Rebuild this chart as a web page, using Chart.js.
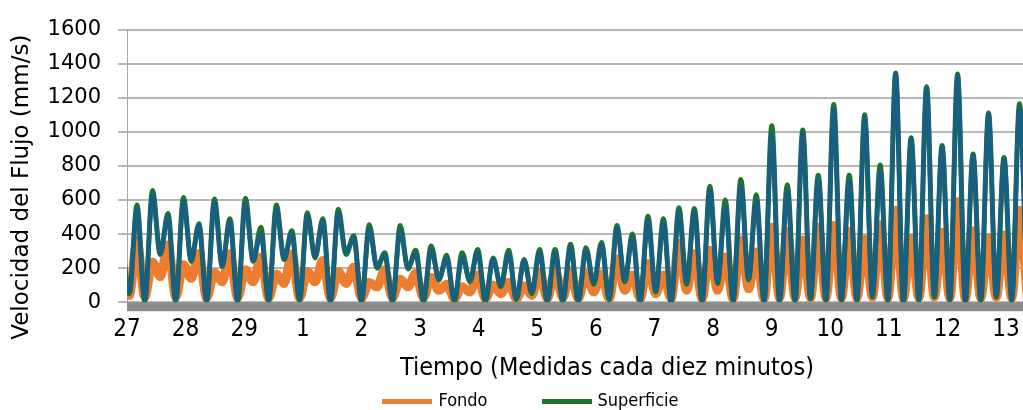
<!DOCTYPE html>
<html>
<head>
<meta charset="utf-8">
<title>Velocidad del Flujo</title>
<script src="https://cdn.jsdelivr.net/npm/chart.js@4/dist/chart.umd.min.js"></script>
<style>
  body { margin: 0; background: #fff; }
  #marco { position: relative; width: 1023px; height: 410px; }
  #leyenda { position: absolute; left: 0; width: 985px; padding-left: 38px; top: 389px; text-align: center;
             font: 18px 'Liberation Sans Narrow', 'DejaVu Sans Condensed', 'DejaVu Sans', sans-serif; color: #000; }
  .item { display: inline-block; margin: 0 27px; white-space: nowrap; }
  .linea { display: inline-block; width: 50px; height: 5px; vertical-align: middle; margin-right: 6px; }
</style>
</head>
<body>
<div id="marco">
  <canvas id="grafico"></canvas>
  <div id="leyenda"></div>
</div>
<script>
// eje x: dias (27 del primer mes al 13 del siguiente)
const etiquetasDias = ['27','28','29','1','2','3','4','5','6','7','8','9','10','11','12','13'];
const diasVisibles = 15.29;
const tituloX = 'Tiempo (Medidas cada diez minutos)';
const tituloY = 'Velocidad del Flujo (mm/s)';

// maximos y minimos sucesivos (pico, valle, pico, valle...), mm/s
// muestreados cada medio ciclo de marea
const primerPico = 0.171;   // dia del primer pico visible
const medioCiclo = 0.1321;  // dias entre pico y valle

const fondo = [
  220, 40,
  360, 30, 235, 150, 335, 30, 220, 140, 285, 25, 175, 120, 285, 25, 190, 120,
  265, 25, 165, 110, 285, 25, 180, 120, 245, 25, 180, 110, 205, 25, 115, 90,
  190, 25, 135, 90, 170, 25, 145, 70, 105, 20, 90, 60, 160, 20, 100, 50,
  115, 20, 95, 40, 175, 20, 185, 25, 185, 20, 170, 60, 165, 20, 255, 70,
  160, 20, 225, 50, 160, 20, 345, 70, 285, 20, 305, 70, 265, 20, 365, 80,
  295, 20, 440, 25, 415, 25, 365, 25, 440, 25, 450, 25, 415, 25, 370, 30,
  455, 25, 540, 20, 375, 25, 490, 30, 410, 25, 590, 20, 420, 25, 380, 30,
  395, 25, 540, 25
];

const superficie = [
  390, 50,
  570, 5, 655, 280, 520, 5, 615, 240, 460, 5, 605, 210, 490, 5, 610, 240,
  440, 5, 570, 250, 420, 10, 525, 260, 490, 5, 545, 280, 390, 5, 455, 200,
  290, 5, 450, 195, 305, 5, 330, 130, 275, 5, 290, 120, 310, 5, 260, 90,
  305, 15, 250, 50, 310, 5, 310, 5, 340, 5, 320, 105, 350, 15, 450, 120,
  400, 5, 505, 60, 490, 0, 555, 105, 550, 5, 680, 110, 600, 5, 720, 130,
  630, 5, 1035, 5, 690, 5, 1010, 20, 745, 10, 1160, 10, 745, 10, 1100, 30,
  805, 10, 1345, 0, 965, 10, 1265, 30, 920, 10, 1340, 5, 870, 10, 1110, 30,
  850, 10, 1165, 10
];

const superficieB = [
  380, 60,
  545, 15, 630, 290, 500, 15, 590, 250, 450, 10, 585, 220, 475, 10, 575, 250,
  400, 15, 545, 260, 400, 20, 505, 270, 475, 10, 520, 290, 375, 15, 430, 210,
  275, 15, 420, 205, 285, 15, 305, 140, 255, 10, 260, 130, 290, 15, 250, 100,
  285, 25, 235, 60, 290, 10, 290, 15, 320, 10, 300, 115, 335, 25, 435, 130,
  375, 10, 475, 70, 465, 5, 530, 115, 530, 10, 655, 120, 555, 15, 685, 140,
  595, 10, 985, 15, 655, 15, 990, 30, 725, 20, 1130, 20, 715, 20, 1085, 40,
  770, 20, 1335, 5, 955, 20, 1255, 40, 910, 20, 1325, 10, 860, 20, 1100, 40,
  840, 20, 1140, 20
];

function puntos(valores) {
  return valores.map((v, k) => ({ x: primerPico + (k - 2) * medioCiclo, y: v }));
}

const fuente = "'DejaVu Sans', sans-serif";
const fuenteEstrecha = "'Liberation Sans Narrow', 'DejaVu Sans Condensed', 'DejaVu Sans', sans-serif";

// banda gris bajo el cero y titulos de los ejes
const bandaEje = {
  id: 'bandaEje',
  afterDatasetsDraw(chart) {
    const { ctx, chartArea, scales } = chart;
    const y0 = scales.y.getPixelForValue(0);
    ctx.save();
    ctx.fillStyle = '#8c8c8c';
    ctx.fillRect(chartArea.left, y0, chartArea.right - chartArea.left, 9);
    ctx.restore();
  }
};

const titulosEjes = {
  id: 'titulosEjes',
  afterDraw(chart) {
    const { ctx, chartArea } = chart;
    ctx.save();
    ctx.fillStyle = '#000';
    ctx.textAlign = 'center';
    ctx.textBaseline = 'middle';
    ctx.font = '25px ' + fuenteEstrecha;
    ctx.fillText(tituloX, chartArea.left + 480, chartArea.bottom + 66);
    ctx.translate(22, chartArea.bottom - 115);
    ctx.rotate(-Math.PI / 2);
    ctx.font = '23px ' + fuente;
    ctx.fillText(tituloY, 0, 0);
    ctx.restore();
  }
};

const config = {
  type: 'line',
  data: {
    datasets: [
      { label: 'Fondo', data: puntos(fondo), borderColor: '#ed7d31', borderWidth: 9, order: 3, enLeyenda: true },
      { label: 'Superficie', data: puntos(superficie), borderColor: '#1e7430', borderWidth: 5, order: 2, enLeyenda: true },
      { label: 'Superficie B', data: puntos(superficieB), borderColor: '#195f80', borderWidth: 4.5, order: 1, enLeyenda: false }
    ]
  },
  options: {
    responsive: true,
    maintainAspectRatio: false,
    animation: false,
    layout: { padding: { top: 24, right: 0, bottom: 66, left: 0 } },
    elements: {
      point: { radius: 0 },
      line: { cubicInterpolationMode: 'monotone', fill: false }
    },
    datasets: { line: { clip: { left: 0, top: 5, right: 0, bottom: 5 } } },
    plugins: {
      legend: { display: false },
      tooltip: { enabled: false }
    },
    scales: {
      x: {
        type: 'linear',
        min: 0,
        max: diasVisibles,
        afterBuildTicks: (s) => { s.ticks = etiquetasDias.map((_, i) => ({ value: i })); },
        ticks: {
          callback: (v) => etiquetasDias[v],
          color: '#000',
          padding: 0,
          maxRotation: 0,
          autoSkip: false,
          font: { family: fuenteEstrecha, size: 24 }
        },
        grid: { display: true, drawOnChartArea: false, drawTicks: true, tickLength: 13, tickColor: 'rgba(0,0,0,0)' },
        border: { display: false }
      },
      y: {
        min: 0,
        max: 1600,
        afterFit: (s) => { s.width = 127; },
        ticks: { stepSize: 200, color: '#000', padding: 17, font: { family: fuente, size: 21 }, callback: (v) => String(v) },
        grid: { color: '#b8b8b8', lineWidth: 2, tickLength: 9 },
        border: { display: true, color: '#a6a6a6', width: 1 }
      }
    }
  },
  plugins: [bandaEje, titulosEjes]
};

const grafico = new Chart(document.getElementById('grafico'), config);

// leyenda solo con las dos series nombradas
const leyenda = document.getElementById('leyenda');
grafico.data.datasets.filter(d => d.enLeyenda).forEach(d => {
  const item = document.createElement('span');
  item.className = 'item';
  item.innerHTML = '<span class="linea" style="background:' + d.borderColor + '"></span>' + d.label;
  leyenda.appendChild(item);
});
</script>
</body>
</html>
